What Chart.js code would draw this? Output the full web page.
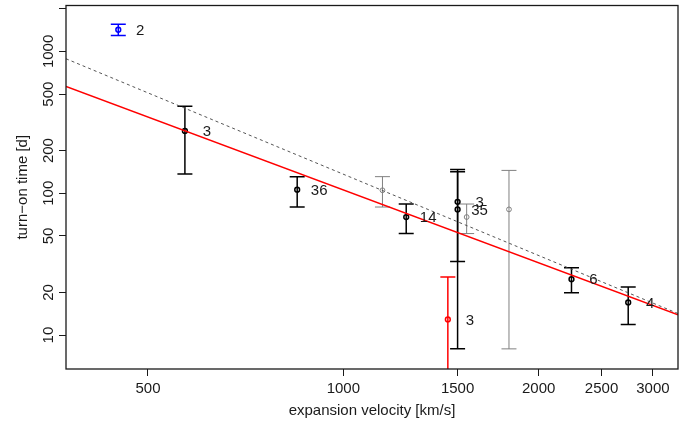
<!DOCTYPE html>
<html>
<head>
<meta charset="utf-8">
<script src="https://cdn.jsdelivr.net/npm/chart.js@4"></script>
<style>
  html, body { margin: 0; padding: 0; background: #fff; }
  #wrap { width: 690px; height: 425px; position: relative; }
</style>
</head>
<body>
<div id="wrap"><canvas id="turnOnChart"></canvas></div>
<script>
// measured objects: expansion velocity [km/s] vs turn-on time [d]
const velocity = [450, 570, 849, 1149, 1250, 1449, 1500, 1500, 1549, 1800, 2247, 2748];
const turnOn   = [1422, 275, 106, 105, 68, 12.9, 87, 77, 68, 77, 24.8, 17.0];
const errLow   = [1297, 137, 80, 80, 52, 3, 8.0, 33, 52, 8.0, 19.9, 11.9];
const errHigh  = [1556, 410, 131, 131, 84, 25.7, 147, 142, 84, 145, 29.8, 21.8];
const counts   = ['2', '3', '36', '', '14', '3', '3', '35', '', '', '6', '4'];
const group    = ['blue', 'black', 'black', 'gray', 'black', 'red', 'black', 'black', 'gray', 'gray', 'black', 'black'];

// fitted power laws, evaluated at the ends of the x range
const fitVelocity = [373.8, 3279];
const fitRed      = [567, 13.9];
const fitDotted   = [888, 14.2];

const xTicks = [500, 1000, 1500, 2000, 2500, 3000];
const yTicks = [10, 20, 50, 100, 200, 500, 1000, 2000];
const yTickLabels = ['10', '20', '50', '100', '200', '500', '1000', ''];

const colors = { black: '#000000', gray: '#808080', red: '#ff0000', blue: '#0000ff' };
const barWidth = { black: 1.5, gray: 1, red: 1.5, blue: 1.5 };
const FONT = "'Liberation Sans', Arial, Helvetica, sans-serif";
const INK = '#1a1a1a';

const errorBars = {
    id: 'errorBars',
    beforeDatasetsDraw(chart) {
        const { ctx, chartArea: a, scales: { x, y } } = chart;
        ctx.save();
        ctx.beginPath();
        ctx.rect(a.left, a.top, a.right - a.left, a.bottom - a.top);
        ctx.clip();
        velocity.forEach((v, i) => {
            const px = x.getPixelForValue(v);
            const top = y.getPixelForValue(errHigh[i]);
            const bot = y.getPixelForValue(errLow[i]);
            ctx.strokeStyle = colors[group[i]];
            ctx.lineWidth = barWidth[group[i]];
            ctx.beginPath();
            ctx.moveTo(px, top); ctx.lineTo(px, bot);
            ctx.moveTo(px - 7.5, top); ctx.lineTo(px + 7.5, top);
            ctx.moveTo(px - 7.5, bot); ctx.lineTo(px + 7.5, bot);
            ctx.stroke();
        });
        ctx.restore();
    }
};

const annotations = {
    id: 'annotations',
    afterDraw(chart) {
        const { ctx, chartArea: a, scales: { x, y } } = chart;
        ctx.save();
        // point counts next to each point
        ctx.font = '15px ' + FONT;
        ctx.fillStyle = INK;
        ctx.textAlign = 'center';
        ctx.textBaseline = 'middle';
        velocity.forEach((v, i) => {
            if (!counts[i]) return;
            ctx.fillText(counts[i], x.getPixelForValue(v) + 22, y.getPixelForValue(turnOn[i]) + 1);
        });
        // rotated y tick labels, R style
        yTicks.forEach((v, i) => {
            if (!yTickLabels[i]) return;
            ctx.save();
            ctx.translate(53, y.getPixelForValue(v));
            ctx.rotate(-Math.PI / 2);
            ctx.textBaseline = 'alphabetic';
            ctx.fillText(yTickLabels[i], 0, 0);
            ctx.restore();
        });
        // box around the plot
        ctx.strokeStyle = INK;
        ctx.lineWidth = 1.3;
        ctx.strokeRect(a.left, a.top, a.right - a.left, a.bottom - a.top);
        ctx.restore();
    }
};

new Chart(document.getElementById('turnOnChart'), {
    type: 'scatter',
    data: {
        datasets: [
            {
                type: 'line',
                data: fitVelocity.map((v, i) => ({ x: v, y: fitDotted[i] })),
                borderColor: '#555555',
                borderWidth: 1,
                borderDash: [3, 3],
                pointRadius: 0,
                fill: false
            },
            {
                type: 'line',
                data: fitVelocity.map((v, i) => ({ x: v, y: fitRed[i] })),
                borderColor: '#ff0000',
                borderWidth: 1.5,
                pointRadius: 0,
                fill: false
            },
            {
                data: velocity.map((v, i) => ({ x: v, y: turnOn[i] })),
                pointRadius: 2.4,
                pointBorderWidth: group.map(g => g === 'gray' ? 1 : 1.5),
                pointBorderColor: group.map(g => colors[g]),
                pointBackgroundColor: 'rgba(255,255,255,0)'
            }
        ]
    },
    options: {
        responsive: true,
        maintainAspectRatio: false,
        animation: false,
        layout: { padding: { top: 5, right: 12, left: 0, bottom: 0 } },
        scales: {
            x: {
                type: 'logarithmic',
                min: 373.8,
                max: 3279,
                afterBuildTicks: s => { s.ticks = xTicks.map(v => ({ value: v })); },
                afterFit: s => { s.height = 56; },
                border: { display: false },
                grid: { drawOnChartArea: false, drawTicks: true, tickLength: 7, tickColor: INK, tickWidth: 1 },
                ticks: {
                    autoSkip: false,
                    maxRotation: 0,
                    padding: 4,
                    color: INK,
                    font: { family: FONT, size: 15 },
                    callback: v => String(v)
                },
                title: {
                    display: true,
                    text: 'expansion velocity [km/s]',
                    color: INK,
                    font: { family: FONT, size: 15 },
                    padding: { top: 0, bottom: 5 }
                }
            },
            y: {
                type: 'logarithmic',
                min: 5.77,
                max: 2108,
                afterBuildTicks: s => { s.ticks = yTicks.map(v => ({ value: v })); },
                afterFit: s => { s.width = 66; },
                border: { display: false },
                grid: { drawOnChartArea: false, drawTicks: true, tickLength: 7, tickColor: INK, tickWidth: 1 },
                ticks: { display: false },
                title: {
                    display: true,
                    text: 'turn\u2212on time [d]',
                    color: INK,
                    font: { family: FONT, size: 15 },
                    padding: { top: 14, bottom: 0 }
                }
            }
        },
        plugins: {
            legend: { display: false },
            tooltip: { enabled: false }
        }
    },
    plugins: [errorBars, annotations]
});
</script>
</body>
</html>
